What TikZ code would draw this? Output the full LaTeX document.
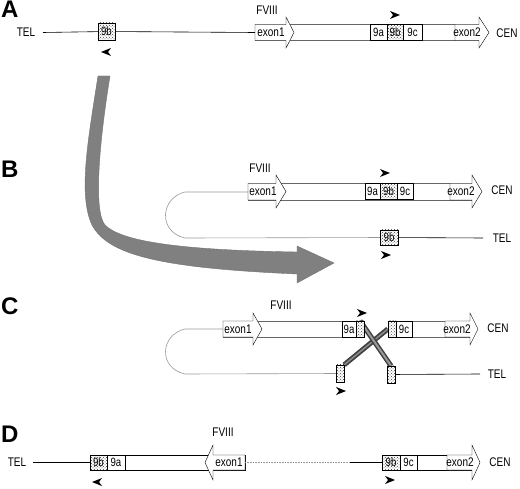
\documentclass[tikz,border=0pt]{standalone}
\usepackage{fontspec}
\setmainfont{Liberation Sans}[FakeStretch=0.8]
\newfontfamily\panelfont{Liberation Sans}
\usetikzlibrary{patterns}

\tikzstyle{lbl}=[inner sep=0pt,font=\fontsize{12.5}{13}\selectfont]
\tikzstyle{panel}=[inner sep=0pt,anchor=base west,font=\panelfont\bfseries\fontsize{24}{24}\selectfont]
\tikzstyle{seg}=[draw=black,fill=white,thin,inner sep=0pt,minimum height=16pt,font=\fontsize{12}{12}\selectfont]
\tikzstyle{dseg}=[seg,preaction={fill=white},pattern=crosshatch dots,pattern color=black!75]
\tikzstyle{exon}=[draw=black,fill=white,thin]
\tikzstyle{gene}=[draw=black!60,thin]
\tikzstyle{strand}=[draw=black,line width=0.6pt]
\tikzstyle{strandg}=[draw=black!40,line width=0.6pt]
\tikzstyle{bar}=[line width=5pt,draw=black!75]
\tikzset{
  pics/tipr/.style={code={\fill (-5,-4) -- (5,0) -- (-5,4) -- (-2,0) -- cycle;}},
  pics/tipl/.style={code={\fill (5,-4) -- (-5,0) -- (5,4) -- (2,0) -- cycle;}}
}

\begin{document}
\begin{tikzpicture}[x=1pt,y=-1pt]
\useasboundingbox (0,0) rectangle (520,489);

%big arrow
\filldraw[fill=black!50,draw=black!55,thin] (98,76) .. controls (88,140) and (78,195) .. (92,225)
  .. controls (108,255) and (160,268) .. (297,274) -- (297,283) -- (334,263) -- (297,246) -- (297,252)
  .. controls (170,250) and (120,240) .. (105,225) .. controls (94,212) and (98,150) .. (110,76) -- cycle;

%A
\node[panel] (pA) at (1,18) {A};
\node[lbl] (telA) at (26,32.5) {TEL};
\node[lbl] (fA) at (267,10) {FVIII};
\node[lbl] (cenA) at (507,33) {CEN};
\coordinate (sA) at (43,32.5);
\coordinate (eA) at (255,32.5);
\node[dseg,minimum width=17pt,minimum height=17pt] (b9A) at (106.5,31.5) {9b};
\draw[strand] (sA) -- (b9A);
\draw[strand] (b9A) -- (eA);
\draw[gene] (255,24.5) rectangle (479,40.5);
\draw[exon] (255,24.5) -- (286,24.5) -- (286,17) -- (294,32.5) -- (286,48) -- (286,40.5) -- (255,40.5) -- cycle;
\node[lbl] (x1A) at (271,32.5) {exon1};
\node[seg,minimum width=17pt] (a9A) at (378.5,32.5) {9a};
\node[dseg,minimum width=16pt] (c9A) at (395,32.5) {9b};
\node[seg,minimum width=19pt] (d9A) at (412.5,32.5) {9c};
\draw[exon] (455,24.5) -- (479,24.5) -- (479,17) -- (489,32.5) -- (479,48) -- (479,40.5) -- (455,40.5) -- cycle;
\node[lbl] (x2A) at (467,32.5) {exon2};
\pic at (106,52) {tipl};
\pic at (395,15) {tipr};

%B
\node[panel] (pB) at (1,178) {B};
\node[lbl] (fB) at (260,168) {FVIII};
\node[lbl] (cenB) at (502,190) {CEN};
\node[lbl] (telB) at (502,238) {TEL};
\coordinate (lB) at (248,192);
\coordinate (tB) at (483,238);
\node[dseg,minimum width=18pt,minimum height=15pt] (b9B) at (389,237.5) {9b};
\draw[strandg] (lB) -- (185,192) .. controls (160,198) and (158,232) .. (185,238) -- (b9B);
\draw[strand] (b9B) -- (tB);
\draw[gene] (248,183.5) rectangle (472,200);
\draw[exon] (248,183.5) -- (276,183.5) -- (276,175) -- (286,191.5) -- (276,208) -- (276,200) -- (248,200) -- cycle;
\node[lbl] (x1B) at (263,191.5) {exon1};
\node[seg,minimum width=15pt] (a9B) at (372.5,191.5) {9a};
\node[dseg,minimum width=17pt] (c9B) at (388.5,191.5) {9b};
\node[seg,minimum width=16pt] (d9B) at (405,191.5) {9c};
\draw[exon] (450,183.5) -- (472,183.5) -- (472,175) -- (482,191.5) -- (472,208) -- (472,200) -- (450,200) -- cycle;
\node[lbl] (x2B) at (461,191.5) {exon2};
\pic at (385,173) {tipr};
\pic at (386,255) {tipr};

%C
\node[panel] (pC) at (1,315) {C};
\node[lbl] (fC) at (281,305) {FVIII};
\node[lbl] (cenC) at (498,328) {CEN};
\node[lbl] (telC) at (497,374) {TEL};
\coordinate (lC) at (223,329);
\coordinate (tC) at (480,374);
\node[dseg,minimum width=8pt,minimum height=17pt] (p9C) at (340,373.5) {};
\node[dseg,minimum width=8pt,minimum height=17pt] (q9C) at (391,374.5) {};
\draw[strandg] (lC) -- (185,329) .. controls (160,335) and (158,368) .. (185,374) -- (p9C);
\draw[strand] (q9C) -- (tC);
\draw[gene] (223,321) rectangle (342,337);
\draw[exon] (223,321) -- (253,321) -- (253,313) -- (262,329) -- (253,345) -- (253,337) -- (223,337) -- cycle;
\node[lbl] (x1C) at (238,329) {exon1};
\node[seg,minimum width=14pt] (a9C) at (349,329) {9a};
\node[dseg,minimum width=8pt] (c9C) at (360,329) {};
\draw[gene] (388,321) rectangle (470,337);
\node[dseg,minimum width=8pt] (r9C) at (392,329) {};
\node[seg,minimum width=16pt] (d9C) at (404,329) {9c};
\draw[exon] (445,321) -- (470,321) -- (470,313) -- (478,329) -- (470,345) -- (470,337) -- (445,337) -- cycle;
\node[lbl] (x2C) at (457,329) {exon2};
%crossing
\draw[bar] (p9C.north east) -- (r9C.west);
\draw[line width=1.5pt,draw=black!45] (p9C.north east) -- (r9C.west);
\draw[bar] (c9C.north) -- (q9C.north);
\draw[line width=2pt,draw=black!40] (c9C.north) -- (q9C.north);
\node[dseg,minimum width=8pt,minimum height=17pt] at (p9C) {};
\node[dseg,minimum width=8pt,minimum height=17pt] at (q9C) {};
\node[dseg,minimum width=8pt] at (c9C) {};
\node[dseg,minimum width=8pt] at (r9C) {};
\pic at (362,313) {tipr};
\pic at (341,391) {tipr};

%D
\node[panel] (pD) at (1,442) {D};
\node[lbl] (telD) at (17,462.5) {TEL};
\node[lbl] (fD) at (223,432) {FVIII};
\node[lbl] (cenD) at (500,462) {CEN};
\coordinate (sD) at (33,462.5);
\coordinate (mD) at (350,462.5);
\coordinate (eD) at (245,462.5);
\node[dseg,minimum width=17pt,minimum height=15pt] (b9D) at (98.5,462.5) {9b};
\draw[strand] (sD) -- (b9D);
\draw[draw=black] (107,455) rectangle (245,470);
\node[seg,minimum width=18pt,minimum height=15pt] (a9D) at (116,462.5) {9a};
\draw[exon] (245,455) -- (213,455) -- (213,445) -- (205,462.5) -- (213,480) -- (213,470) -- (245,470) -- cycle;
\node[lbl] (x1D) at (229,462.5) {exon1};
\draw[strandg,densely dotted] (eD) -- (mD);
\node[dseg,minimum width=18pt,minimum height=15pt] (c9D) at (391,462.5) {9b};
\draw[strand] (mD) -- (c9D);
\draw[draw=black] (400,455) rectangle (472,470);
\node[seg,minimum width=17pt,minimum height=15pt] (d9D) at (408.5,462.5) {9c};
\draw[exon] (447,455) -- (472,455) -- (472,445) -- (480,462.5) -- (472,480) -- (472,470) -- (447,470) -- cycle;
\node[lbl] (x2D) at (460,462.5) {exon2};
\pic at (97,482) {tipl};
\pic at (390,480) {tipr};
\end{tikzpicture}
\end{document}
